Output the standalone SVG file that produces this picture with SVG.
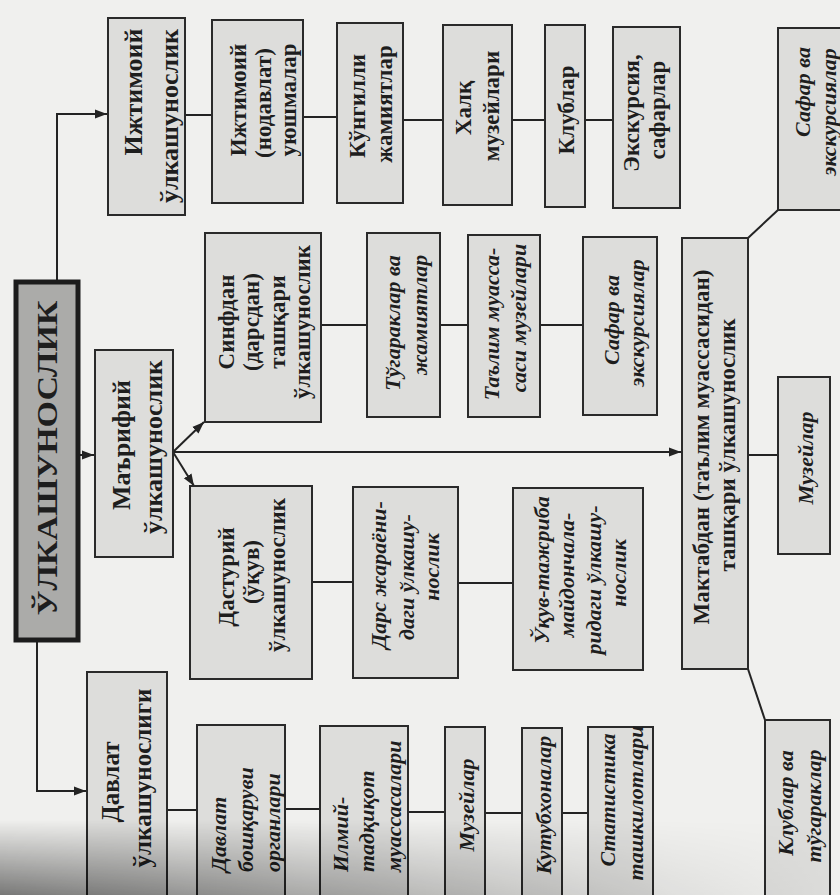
<svg xmlns="http://www.w3.org/2000/svg" width="840" height="895" viewBox="0 0 840 895">
<defs>
<style>
.bg{fill:#f0f0ee}
.box{fill:#dddddb;stroke:#2a2a2a;stroke-width:2}
.main{fill:#ababa9;stroke:#1c1c1c;stroke-width:5}
.ln{fill:none;stroke:#232323;stroke-width:2}
text{font-family:"Liberation Serif","DejaVu Serif",serif;font-weight:bold;fill:#1e1e1e;text-anchor:middle;dominant-baseline:central}
tspan{dominant-baseline:central}
.title{font-size:30px}
.t2{font-size:26px}
.t3{font-size:23px}
.it{font-size:22px;font-style:italic}
.st{text-anchor:start}
</style>
<marker id="arr" viewBox="0 0 12 10" refX="12" refY="5" markerWidth="12" markerHeight="10" markerUnits="userSpaceOnUse" orient="auto">
<path d="M0,0.5 L12,5 L0,9.5 z" fill="#232323"/>
</marker>
<linearGradient id="shadeV" x1="0" y1="0" x2="0" y2="1">
<stop offset="0" stop-color="#000" stop-opacity="0"/>
<stop offset="1" stop-color="#000" stop-opacity="0.5"/>
</linearGradient>
<linearGradient id="fadeH" x1="0" y1="0" x2="1" y2="0">
<stop offset="0" stop-color="#fff"/>
<stop offset="0.35" stop-color="#999"/>
<stop offset="0.8" stop-color="#222"/>
<stop offset="1" stop-color="#000"/>
</linearGradient>
<mask id="shadeMask"><rect x="0" y="820" width="840" height="75" fill="url(#fadeH)"/></mask>
</defs>
<rect class="bg" x="0" y="0" width="840" height="895"/>

<g id="connectors">
<path class="ln" d="M57,282 V114 H107" marker-end="url(#arr)"/>
<path class="ln" d="M78,455 H94" marker-end="url(#arr)"/>
<path class="ln" d="M37,640 V791 H86" marker-end="url(#arr)"/>
<path class="ln" d="M173,452 L204,422" marker-end="url(#arr)"/>
<path class="ln" d="M173,452 L194,486" marker-end="url(#arr)"/>
<path class="ln" d="M173,452 H681" marker-end="url(#arr)"/>
<path class="ln" d="M185,115 H212"/>
<path class="ln" d="M303,117 H337"/>
<path class="ln" d="M403,120 H443"/>
<path class="ln" d="M512,120 H545"/>
<path class="ln" d="M585,120 H613"/>
<path class="ln" d="M321,325 H367"/>
<path class="ln" d="M440,325 H468"/>
<path class="ln" d="M540,325 H583"/>
<path class="ln" d="M312,582 H353"/>
<path class="ln" d="M458,583 H513"/>
<path class="ln" d="M167,810 H197"/>
<path class="ln" d="M285,809 H320"/>
<path class="ln" d="M408,812 H445"/>
<path class="ln" d="M485,813 H522"/>
<path class="ln" d="M562,813 H588"/>
<path class="ln" d="M748,455 H778"/>
<path class="ln" d="M748,238 L778,210"/>
<path class="ln" d="M748,669 L765,720"/>
</g>

<g id="n-main">
<rect class="main" x="16" y="282" width="62" height="358"/>
<text class="title" transform="rotate(-90)" x="-458" y="46" textLength="315" lengthAdjust="spacingAndGlyphs">ЎЛКАШУНОСЛИК</text>
</g>

<g id="n-ijtimoiy">
<rect class="box" x="108" y="18" width="77" height="197"/>
<text class="t2" transform="rotate(-90)"><tspan x="-92" y="133">Ижтимоий</tspan><tspan x="-116" y="169">ўлкашунослик</tspan></text>
</g>

<g id="n-nodavlat">
<rect class="box" x="212" y="20" width="91" height="183"/>
<text class="t3" transform="rotate(-90)"><tspan x="-100" y="238">Ижтимоий</tspan><tspan x="-103" y="263">(нодавлат)</tspan><tspan x="-100" y="288">уюшмалар</tspan></text>
</g>

<g id="n-kungilli">
<rect class="box" x="337" y="23" width="66" height="180"/>
<text class="t3" transform="rotate(-90)"><tspan x="-106" y="357">Кўнгилли</tspan><tspan x="-104" y="384">жамиятлар</tspan></text>
</g>

<g id="n-xalq">
<rect class="box" x="443" y="25" width="69" height="180"/>
<text class="t3" transform="rotate(-90)"><tspan x="-108" y="463">Халқ</tspan><tspan x="-106" y="491">музейлари</tspan></text>
</g>

<g id="n-klublar">
<rect class="box" x="545" y="25" width="40" height="182"/>
<text class="t3" transform="rotate(-90)"><tspan x="-110" y="566">Клублар</tspan></text>
</g>

<g id="n-ekskursiya">
<rect class="box" x="613" y="27" width="67" height="181"/>
<text class="t3" transform="rotate(-90)"><tspan x="-113" y="631">Экскурсия,</tspan><tspan x="-110" y="657">сафарлар</tspan></text>
</g>

<g id="n-safar-top">
<rect class="box" x="778" y="28" width="66" height="182"/>
<text class="it" transform="rotate(-90)"><tspan x="-92" y="802">Сафар ва</tspan><tspan x="-112" y="828">экскурсиялар</tspan></text>
</g>

<g id="n-marifiy">
<rect class="box" x="95" y="350" width="78" height="207"/>
<text class="t2" transform="rotate(-90)"><tspan x="-445" y="121">Маърифий</tspan><tspan x="-447" y="153">ўлкашунослик</tspan></text>
</g>

<g id="n-sinfdan">
<rect class="box" x="205" y="233" width="116" height="189"/>
<text class="t3" transform="rotate(-90)"><tspan x="-322" y="226">Синфдан</tspan><tspan x="-322" y="251">(дарсдан)</tspan><tspan x="-322" y="277">ташқари</tspan><tspan x="-322" y="302">ўлкашунослик</tspan></text>
</g>

<g id="n-tugaraklar">
<rect class="box" x="367" y="233" width="73" height="184"/>
<text class="it" transform="rotate(-90)"><tspan x="-323" y="392">Тўгараклар ва</tspan><tspan x="-315" y="419">жамиятлар</tspan></text>
</g>

<g id="n-talim-muzey">
<rect class="box" x="468" y="235" width="72" height="182"/>
<text class="it" transform="rotate(-90)"><tspan x="-324" y="491">Таълим муасса-</tspan><tspan x="-318" y="518">саси музейлари</tspan></text>
</g>

<g id="n-safar-mid">
<rect class="box" x="583" y="237" width="74" height="178"/>
<text class="it" transform="rotate(-90)"><tspan x="-320" y="611">Сафар ва</tspan><tspan x="-323" y="636">экскурсиялар</tspan></text>
</g>

<g id="n-maktabdan">
<rect class="box" x="682" y="238" width="66" height="431"/>
<text class="t3" transform="rotate(-90)"><tspan x="-447" y="701" textLength="355" lengthAdjust="spacing">Мактабдан (таълим муассасидан)</tspan><tspan x="-445" y="727">ташқари ўлкашунослик</tspan></text>
</g>

<g id="n-muzeylar-r">
<rect class="box" x="778" y="377" width="52" height="177"/>
<text class="it" transform="rotate(-90)"><tspan x="-458" y="805">Музейлар</tspan></text>
</g>

<g id="n-klublar-tugaraklar">
<rect class="box" x="765" y="720" width="65" height="190"/>
<text class="it" transform="rotate(-90)"><tspan x="-803" y="785">Клублар ва</tspan><tspan x="-806" y="813">тўгараклар</tspan></text>
</g>

<g id="n-dasturiy">
<rect class="box" x="190" y="486" width="122" height="193"/>
<text class="t3" transform="rotate(-90)"><tspan x="-577" y="226">Дастурий</tspan><tspan x="-572" y="251">(ўқув)</tspan><tspan x="-575" y="277">ўлкашунослик</tspan></text>
</g>

<g id="n-dars">
<rect class="box" x="353" y="487" width="105" height="191"/>
<text class="it" transform="rotate(-90)"><tspan x="-575" y="378">Дарс жараёни-</tspan><tspan x="-577" y="406">даги ўлкашу-</tspan><tspan x="-567" y="431">нослик</tspan></text>
</g>

<g id="n-uquv-tajriba">
<rect class="box" x="513" y="488" width="130" height="182"/>
<text class="it" transform="rotate(-90)"><tspan x="-570" y="541">Ўқув-тажриба</tspan><tspan x="-575" y="566">майдончала-</tspan><tspan x="-580" y="593">ридаги ўлкашу-</tspan><tspan x="-573" y="618">нослик</tspan></text>
</g>

<g id="n-davlat">
<rect class="box" x="87" y="672" width="80" height="240"/>
<text class="t2" transform="rotate(-90)" style="font-size:25px"><tspan x="-782" y="110">Давлат</tspan><tspan x="-778" y="142">ўлкашунослиги</tspan></text>
</g>

<g id="n-boshqaruv">
<rect class="box" x="197" y="725" width="88" height="190"/>
<text class="it st" transform="rotate(-90)"><tspan x="-872" y="218">Давлат</tspan><tspan x="-872" y="245">бошқаруви</tspan><tspan x="-872" y="272">органлари</tspan></text>
</g>

<g id="n-ilmiy">
<rect class="box" x="320" y="726" width="88" height="190"/>
<text class="it st" transform="rotate(-90)"><tspan x="-872" y="340">Илмий-</tspan><tspan x="-872" y="366">тадқиқот</tspan><tspan x="-872" y="393">муассасалари</tspan></text>
</g>

<g id="n-muzeylar-b">
<rect class="box" x="445" y="727" width="40" height="190"/>
<text class="it" transform="rotate(-90)"><tspan x="-805" y="466">Музейлар</tspan></text>
</g>

<g id="n-kutubxona">
<rect class="box" x="522" y="728" width="40" height="190"/>
<text class="it" transform="rotate(-90)"><tspan x="-805" y="543">Кутубхоналар</tspan></text>
</g>

<g id="n-statistika">
<rect class="box" x="588" y="727" width="65" height="190"/>
<text class="it" transform="rotate(-90)"><tspan x="-800" y="607">Статистика</tspan><tspan x="-803" y="635">ташкилотлари</tspan></text>
</g>

<rect x="0" y="820" width="840" height="75" fill="url(#shadeV)" mask="url(#shadeMask)"/>
</svg>
